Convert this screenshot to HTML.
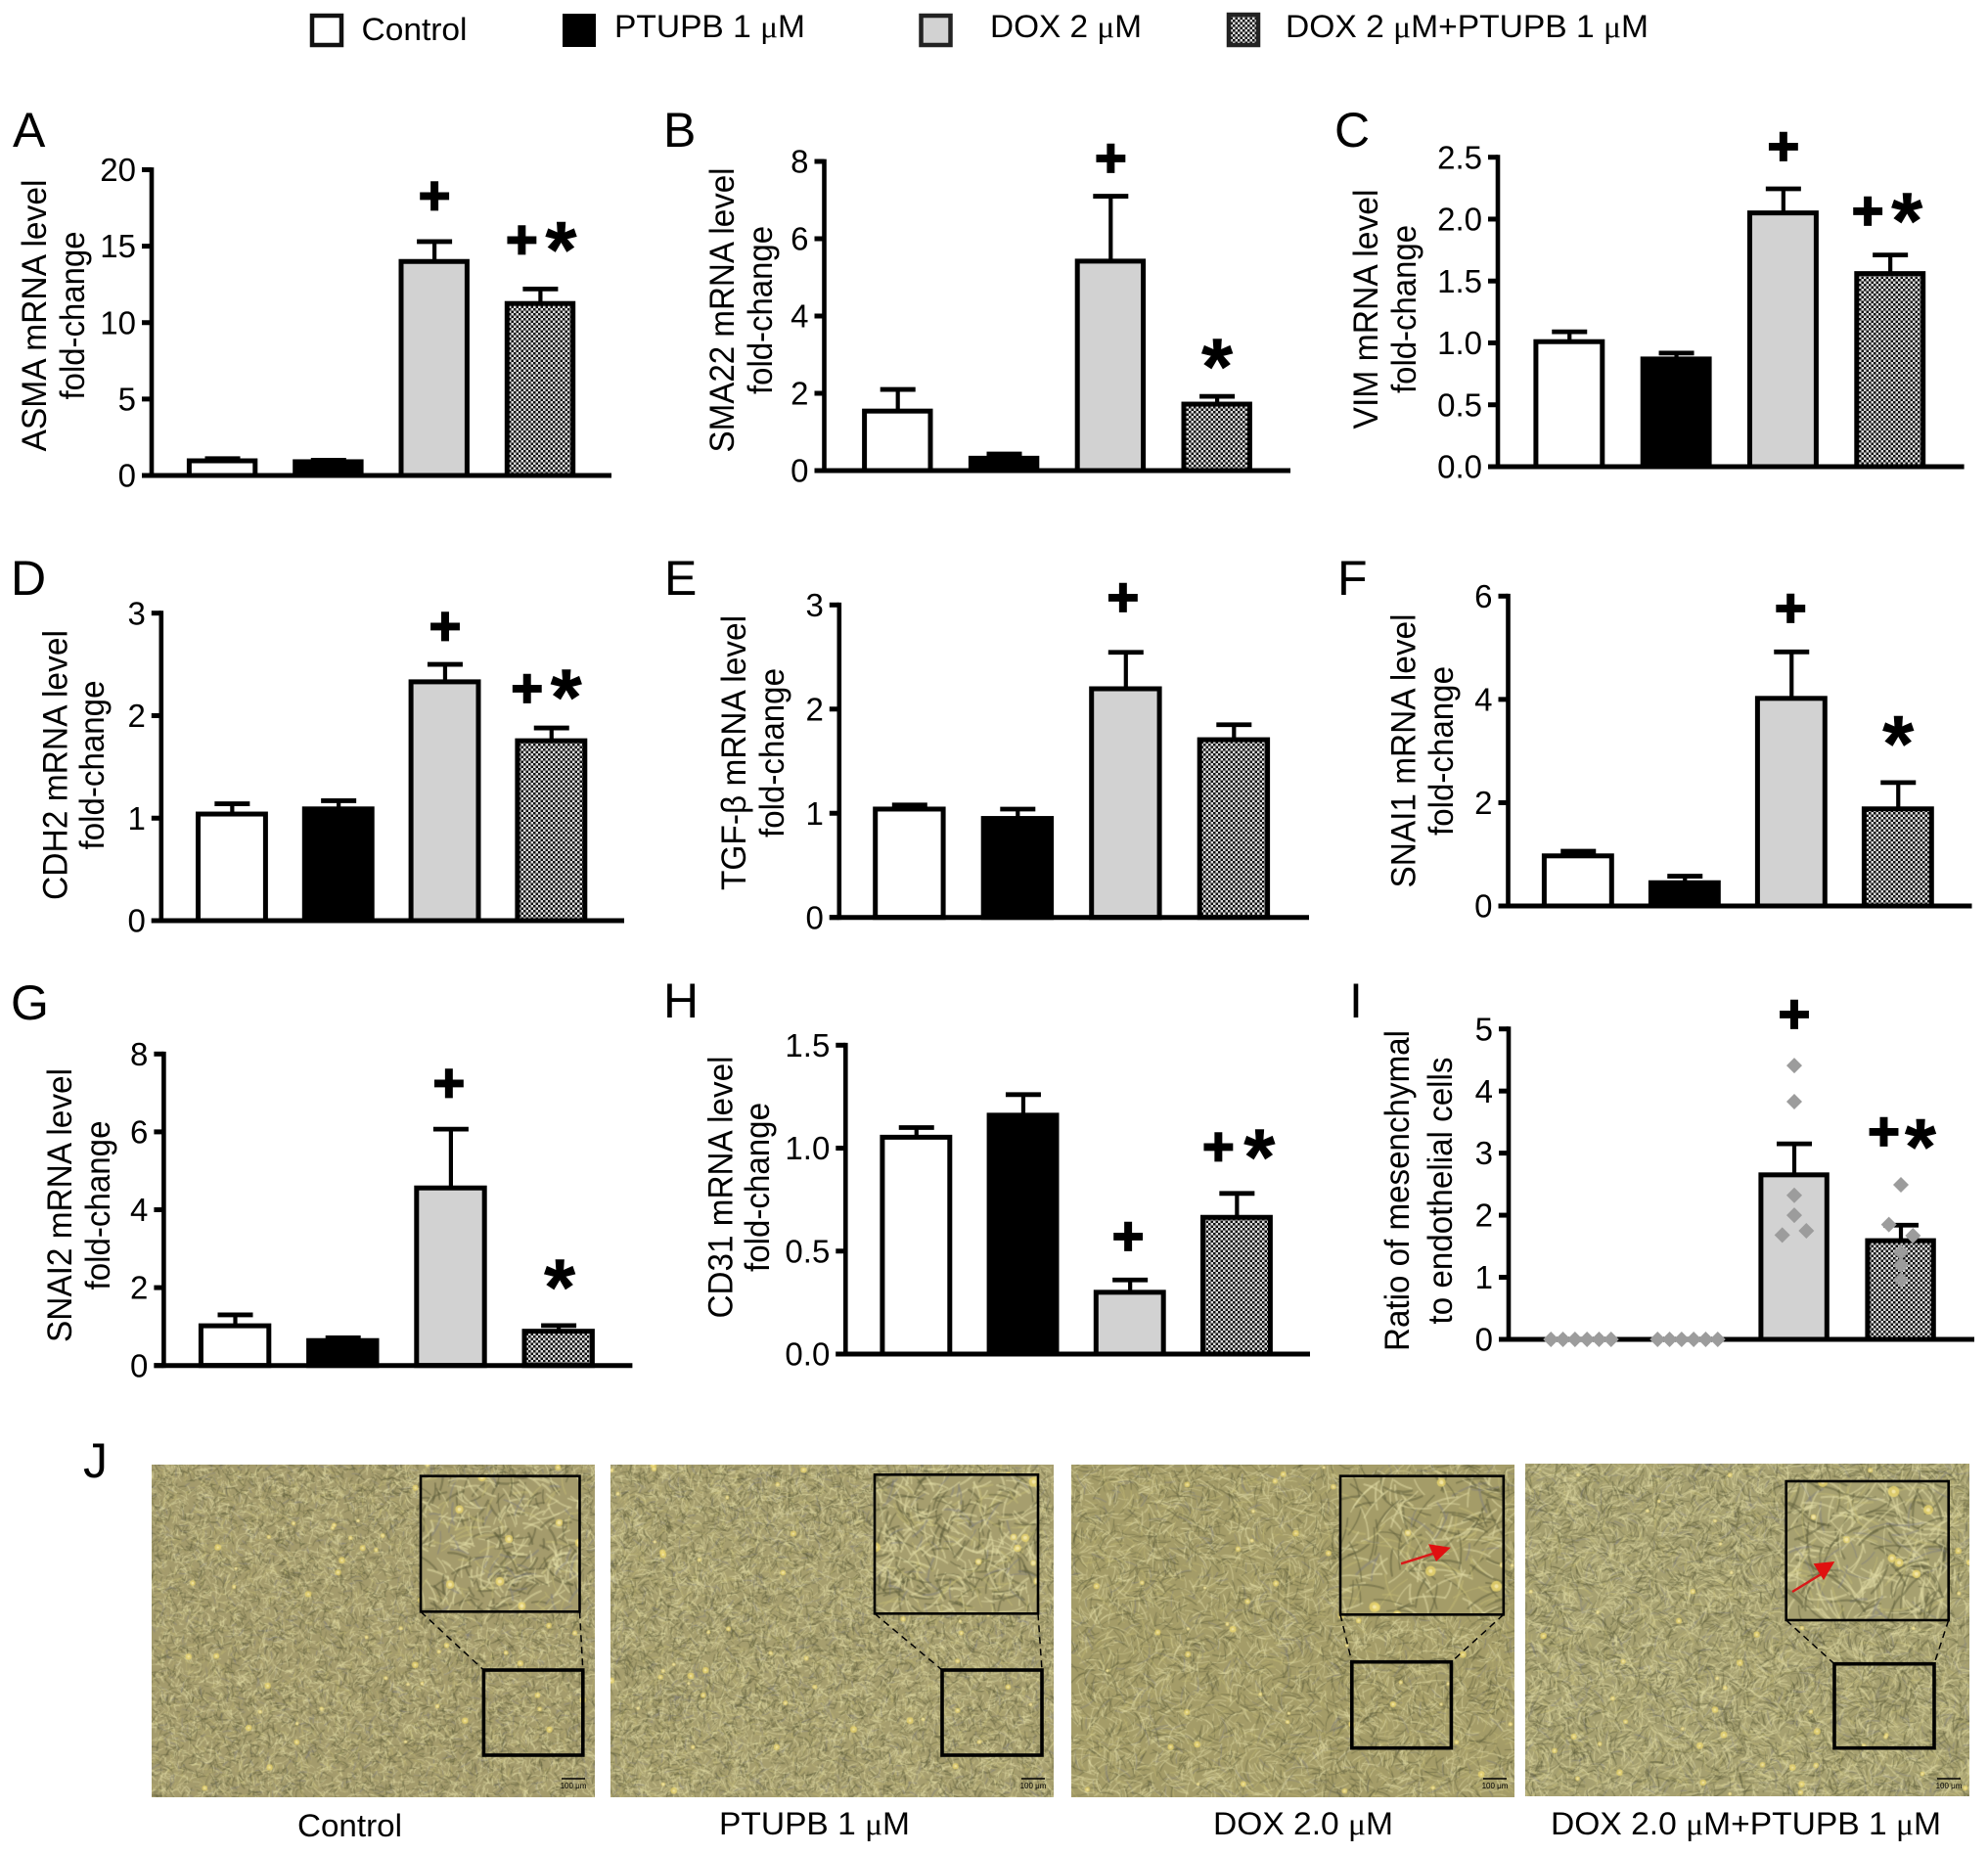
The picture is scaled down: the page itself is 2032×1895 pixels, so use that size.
<!DOCTYPE html>
<html lang="en">
<head>
<meta charset="utf-8">
<title>Fold-change panels and cell morphology</title>
<style>
html,body{margin:0;padding:0;background:#fff}
#page{position:relative;width:2032px;height:1895px;overflow:hidden;background:#fff}
#page canvas{position:absolute;display:block}
#figure{position:absolute;left:0;top:0}
#figure text{font-family:"Liberation Sans",Arial,sans-serif;fill:#000}
.mu{font-family:"Liberation Serif",serif}
</style>
</head>
<body>
<div id="page">
<svg id="figure" width="2032" height="1895" viewBox="0 0 2032 1895" xmlns="http://www.w3.org/2000/svg">
<defs>
<pattern id="checker" width="5" height="5" patternUnits="userSpaceOnUse">
<rect width="5" height="5" fill="#dcdcdc"/>
<rect width="2.5" height="2.5" fill="#111"/>
<rect x="2.5" y="2.5" width="2.5" height="2.5" fill="#111"/>
</pattern>
</defs>
<g id="legend">
<g>
<rect x="319" y="16" width="30" height="30" fill="#fff" stroke="#111" stroke-width="4.5"/>
<text x="369.5" y="41" font-size="32" textLength="108" lengthAdjust="spacingAndGlyphs">Control</text>
</g>
<g>
<rect x="577" y="16" width="30" height="30" fill="#000" stroke="#000" stroke-width="4"/>
<text x="628" y="38" font-size="32" textLength="195" lengthAdjust="spacingAndGlyphs">PTUPB 1 <tspan class="mu">μ</tspan>M</text>
</g>
<g>
<rect x="941.5" y="16" width="30" height="30" fill="#d2d2d2" stroke="#222" stroke-width="4.5"/>
<text x="1012" y="38" font-size="32" textLength="155" lengthAdjust="spacingAndGlyphs">DOX 2 <tspan class="mu">μ</tspan>M</text>
</g>
<g>
<rect x="1256" y="15" width="30" height="31" fill="url(#checker)" stroke="#222" stroke-width="4.5"/>
<text x="1314" y="38" font-size="32" textLength="371" lengthAdjust="spacingAndGlyphs">DOX 2 <tspan class="mu">μ</tspan>M+PTUPB 1 <tspan class="mu">μ</tspan>M</text>
</g>
</g>
<g id="charts"></g>
<g id="overlays"></g>
<text x="85" y="1510" font-size="50">J</text>
<text x="304" y="1877" font-size="32" textLength="107" lengthAdjust="spacingAndGlyphs">Control</text>
<text x="735" y="1875" font-size="32" textLength="195" lengthAdjust="spacingAndGlyphs">PTUPB 1 <tspan class="mu">μ</tspan>M</text>
<text x="1240" y="1875" font-size="32" textLength="184" lengthAdjust="spacingAndGlyphs">DOX 2.0 <tspan class="mu">μ</tspan>M</text>
<text x="1585" y="1875" font-size="32" textLength="399" lengthAdjust="spacingAndGlyphs">DOX 2.0 <tspan class="mu">μ</tspan>M+PTUPB 1 <tspan class="mu">μ</tspan>M</text>
</svg>
</div>
<script>
// ---- chart data ----
const categories = ['Control', 'PTUPB 1 uM', 'DOX 2 uM', 'DOX 2 uM+PTUPB 1 uM'];

const asmaMeans = [0.96, 0.9, 14.0, 11.25];
const asmaSem = [0.14, 0.1, 1.3, 0.95];
const asmaTicks = ['0', '5', '10', '15', '20'];
const asmaMarks = [{bar: 2, sym: '+', at: 18.27, dx: 0}, {bar: 3, sym: '+', at: 15.4, dx: -19}, {bar: 3, sym: '*', at: 15.6, dx: 21}];

const sma22Means = [1.54, 0.32, 5.42, 1.72];
const sma22Sem = [0.56, 0.11, 1.68, 0.2];
const sma22Ticks = ['0', '2', '4', '6', '8'];
const sma22Marks = [{bar: 2, sym: '+', at: 8.08, dx: 0}, {bar: 3, sym: '*', at: 3.01, dx: 0}];

const vimMeans = [1.01, 0.87, 2.05, 1.56];
const vimSem = [0.08, 0.048, 0.195, 0.15];
const vimTicks = ['0.0', '0.5', '1.0', '1.5', '2.0', '2.5'];
const vimMarks = [{bar: 2, sym: '+', at: 2.585, dx: 0}, {bar: 3, sym: '+', at: 2.063, dx: -23}, {bar: 3, sym: '*', at: 2.087, dx: 17}];

const cdh2Means = [1.04, 1.09, 2.33, 1.755];
const cdh2Sem = [0.1, 0.08, 0.17, 0.125];
const cdh2Ticks = ['0', '1', '2', '3'];
const cdh2Marks = [{bar: 2, sym: '+', at: 2.87, dx: 0}, {bar: 3, sym: '+', at: 2.26, dx: -25}, {bar: 3, sym: '*', at: 2.3, dx: 15}];

const tgfbMeans = [1.04, 0.95, 2.195, 1.706];
const tgfbSem = [0.04, 0.09, 0.35, 0.144];
const tgfbTicks = ['0', '1', '2', '3'];
const tgfbMarks = [{bar: 2, sym: '+', at: 3.07, dx: -3}];

const snai1Means = [0.97, 0.45, 4.02, 1.88];
const snai1Sem = [0.09, 0.127, 0.9, 0.51];
const snai1Ticks = ['0', '2', '4', '6'];
const snai1Marks = [{bar: 2, sym: '+', at: 5.76, dx: -1}, {bar: 3, sym: '*', at: 3.38, dx: 0}];

const snai2Means = [1.02, 0.64, 4.56, 0.88];
const snai2Sem = [0.28, 0.07, 1.51, 0.145];
const snai2Ticks = ['0', '2', '4', '6', '8'];
const snai2Marks = [{bar: 2, sym: '+', at: 7.24, dx: -2}, {bar: 3, sym: '*', at: 2.33, dx: 1}];

const cd31Means = [1.053, 1.16, 0.3, 0.664];
const cd31Sem = [0.047, 0.1, 0.06, 0.116];
const cd31Ticks = ['0.0', '0.5', '1.0', '1.5'];
const cd31Marks = [{bar: 2, sym: '+', at: 0.57, dx: -2}, {bar: 3, sym: '+', at: 1.006, dx: -19}, {bar: 3, sym: '*', at: 1.017, dx: 23}];

const ratioMeans = [0, 0, 2.65, 1.59];
const ratioSem = [0, 0, 0.5, 0.25];
const ratioTicks = ['0', '1', '2', '3', '4', '5'];
const ratioMarks = [{bar: 2, sym: '+', at: 5.23, dx: 0}, {bar: 3, sym: '+', at: 3.34, dx: -17.5}, {bar: 3, sym: '*', at: 3.3, dx: 20}];
const ratioPoints = [
  [0, 0, 0, 0, 0, 0],
  [0, 0, 0, 0, 0, 0],
  [4.41, 3.83, 2.32, 2.0, 1.68, 1.75],
  [2.49, 1.85, 1.67, 1.4, 1.2, 0.96]
];
const ratioSwarm = [
  [-2.5, -1.5, -0.5, 0.5, 1.5, 2.5],
  [-2.5, -1.5, -0.5, 0.5, 1.5, 2.5],
  [0, 0, 0, 0, -1, 1],
  [0, -1, 1, 0, 0, 0]
];

// ---- panel layout ----
const panels = [
  {id: 'asma', letter: 'A', lx: 13, ly: 150, means: asmaMeans, sem: asmaSem, ticks: asmaTicks, marks: asmaMarks,
   axisX: 155, yTop: 173.5, y0: 486, xRight: 625, barX: 192.5, pitch: 108.3, barW: 70,
   titles: ['ASMA mRNA level', 'fold-change'], bases: [47, 86], tcy: 322.5, lens: [278, 172]},
  {id: 'sma22', letter: 'B', lx: 678, ly: 150, means: sma22Means, sem: sma22Sem, ticks: sma22Ticks, marks: sma22Marks,
   axisX: 842.5, yTop: 165, y0: 481, xRight: 1319, barX: 882.7, pitch: 108.8, barW: 70,
   titles: ['SMA22 mRNA level', 'fold-change'], bases: [750, 789], tcy: 317, lens: [291, 172]},
  {id: 'vim', letter: 'C', lx: 1364, ly: 150, means: vimMeans, sem: vimSem, ticks: vimTicks, marks: vimMarks,
   axisX: 1531, yTop: 160.7, y0: 477, xRight: 2007.6, barX: 1569, pitch: 109.3, barW: 70.5,
   titles: ['VIM mRNA level', 'fold-change'], bases: [1408, 1447], tcy: 316, lens: [245, 172]},
  {id: 'cdh2', letter: 'D', lx: 11, ly: 608, means: cdh2Means, sem: cdh2Sem, ticks: cdh2Ticks, marks: cdh2Marks,
   axisX: 164.8, yTop: 626.7, y0: 941, xRight: 638, barX: 201.6, pitch: 108.8, barW: 71.5,
   titles: ['CDH2 mRNA level', 'fold-change'], bases: [68.5, 106], tcy: 782, lens: [276, 173]},
  {id: 'tgfb', letter: 'E', lx: 679, ly: 608, means: tgfbMeans, sem: tgfbSem, ticks: tgfbTicks, marks: tgfbMarks,
   axisX: 857.8, yTop: 618.3, y0: 937.7, xRight: 1338, barX: 893.8, pitch: 110.5, barW: 72,
   titles: ['TGF-β mRNA level', 'fold-change'], bases: [762, 801], tcy: 769.5, lens: [281, 173]},
  {id: 'snai1', letter: 'F', lx: 1367, ly: 608, means: snai1Means, sem: snai1Sem, ticks: snai1Ticks, marks: snai1Marks,
   axisX: 1541.5, yTop: 609.3, y0: 926, xRight: 2015.5, barX: 1577.5, pitch: 109, barW: 71.5,
   titles: ['SNAI1 mRNA level', 'fold-change'], bases: [1446.5, 1485], tcy: 767.5, lens: [280, 173]},
  {id: 'snai2', letter: 'G', lx: 11, ly: 1042, means: snai2Means, sem: snai2Sem, ticks: snai2Ticks, marks: snai2Marks,
   axisX: 167.4, yTop: 1077.3, y0: 1395.7, xRight: 646.4, barX: 204.5, pitch: 110.2, barW: 72,
   titles: ['SNAI2 mRNA level', 'fold-change'], bases: [73, 112], tcy: 1232, lens: [280, 173]},
  {id: 'cd31', letter: 'H', lx: 678, ly: 1040, means: cd31Means, sem: cd31Sem, ticks: cd31Ticks, marks: cd31Marks,
   axisX: 864.3, yTop: 1068.3, y0: 1384, xRight: 1339, barX: 901, pitch: 109.2, barW: 71.5,
   titles: ['CD31 mRNA level', 'fold-change'], bases: [748.5, 786], tcy: 1213.5, lens: [268, 173]},
  {id: 'ratio', letter: 'I', lx: 1379, ly: 1040, means: ratioMeans, sem: ratioSem, ticks: ratioTicks, marks: ratioMarks,
   axisX: 1542, yTop: 1051.7, y0: 1369, xRight: 2018, barX: 1581, pitch: 109, barW: 70,
   titles: ['Ratio of mesenchymal', 'to endothelial cells'], bases: [1440, 1484], tcy: 1217, lens: [328, 273],
   points: ratioPoints, swarm: ratioSwarm}
];

const SVGNS = 'http://www.w3.org/2000/svg';
function svgEl(tag, parent, props) {
  const el = document.createElementNS(SVGNS, tag);
  for (const k in props) el.setAttribute(k, props[k]);
  parent.appendChild(el);
  return el;
}

const barFills = ['#ffffff', '#000000', '#d2d2d2', 'url(#checker)'];
const chartsRoot = document.getElementById('charts');

panels.forEach(function (p) {
  const g = svgEl('g', chartsRoot, {});
  
  

  const yMax = parseFloat(p.ticks[p.ticks.length - 1]);
  const yScale = function (v) { return p.y0 - (v / yMax) * (p.y0 - p.yTop); };
  const barLeft = function (i) { return p.barX + i * p.pitch; };
  const barCenter = function (i) { return barLeft(i) + p.barW / 2; };

  const letter = svgEl('text', g, {x: p.lx, y: p.ly, 'font-size': 50});
  letter.textContent = p.letter;
  
  

  p.titles.forEach(function (t, i) {
    const title = svgEl('text', g, {
      'font-size': 35.5,
      textLength: p.lens[i],
      lengthAdjust: 'spacingAndGlyphs',
      transform: 'translate(' + p.bases[i] + ' ' + (p.tcy + p.lens[i] / 2) + ') rotate(-90)'
    });
    title.textContent = t;
    
    
  });

  p.means.forEach(function (m, i) {
    const cx = barCenter(i);
    if (p.sem[i] > 0) {
      const stem = svgEl('line', g, {x1: cx, x2: cx, y1: yScale(m), y2: yScale(m + p.sem[i]), stroke: '#000', 'stroke-width': 4.2});
      
      
      const cap = svgEl('line', g, {x1: cx - 18, x2: cx + 18, y1: yScale(m + p.sem[i]), y2: yScale(m + p.sem[i]), stroke: '#000', 'stroke-width': 4.8});
      
      
    }
    if (m > 0) {
      const bar = svgEl('rect', g, {
        x: barLeft(i) + 0.9, y: yScale(m), width: p.barW - 2.6, height: p.y0 - yScale(m),
        fill: barFills[i], stroke: '#000', 'stroke-width': 5
      });
      
      
    }
  });

  const yAxis = svgEl('line', g, {x1: p.axisX, x2: p.axisX, y1: p.yTop - 2.4, y2: p.y0 + 2.4, stroke: '#000', 'stroke-width': 4.6});
  
  
  const xAxis = svgEl('line', g, {x1: p.axisX - 10, x2: p.xRight, y1: p.y0, y2: p.y0, stroke: '#000', 'stroke-width': 5});
  
  

  p.ticks.forEach(function (label) {
    const v = parseFloat(label);
    const ty = yScale(v);
    const tick = svgEl('line', g, {x1: p.axisX - 10, x2: p.axisX, y1: ty, y2: ty, stroke: '#000', 'stroke-width': 5});
    
    
    const tl = svgEl('text', g, {x: p.axisX - 16, y: ty + 11.6, 'font-size': 33, 'text-anchor': 'end'});
    tl.textContent = label;
    
    
  });

  if (p.points) {
    p.points.forEach(function (series, i) {
      series.forEach(function (v, j) {
        const px = barCenter(i) + p.swarm[i][j] * 12.3;
        const py = yScale(v);
        const dot = svgEl('polygon', g, {
          points: (px - 8) + ',' + py + ' ' + px + ',' + (py - 8) + ' ' + (px + 8) + ',' + py + ' ' + px + ',' + (py + 8),
          fill: '#9c9c9c'
        });
        
        
      });
    });
  }

  p.marks.forEach(function (mk) {
    const isPlus = mk.sym === '+';
    const size = isPlus ? 56 : 82;
    const offset = isPlus ? 18.5 : 41;
    const sig = svgEl('text', g, {
      x: barCenter(mk.bar) + mk.dx, y: yScale(mk.at) + offset,
      'font-size': size, 'font-weight': 'bold', 'text-anchor': 'middle',
      stroke: '#000', 'stroke-width': isPlus ? 1.8 : 0.6
    });
    sig.textContent = mk.sym;
    
    
  });
});

// ---- microscopy photographs (procedural texture) ----
const photos = [
  {id: 'control', x: 155, y: 1497, w: 453, h: 340, base: [164, 155, 108], len: 7, area: 11, jitter: 2.6, seed: 11,
   inset: [430, 1508.7, 162.5, 138.6], box: [494.4, 1707, 101.4, 87], scaleX: 574},
  {id: 'ptupb', x: 624, y: 1497, w: 453, h: 340, base: [166, 158, 110], len: 8, area: 10, jitter: 2.6, seed: 37,
   inset: [894, 1507.3, 167, 142], box: [963, 1707, 102, 87], scaleX: 1044},
  {id: 'dox', x: 1095, y: 1497, w: 453, h: 340, base: [164, 156, 104], len: 13, area: 22, jitter: 2.0, seed: 73,
   inset: [1370, 1508.7, 166.8, 141.6], box: [1381.8, 1698.7, 101.6, 88], scaleX: 1516,
   head: [[1460, 1578.3], [1482.8, 1581.7], [1468, 1596]], tail: [1432, 1598.3, 1469, 1586.7]},
  {id: 'dox-ptupb', x: 1559, y: 1496, w: 454, h: 340, base: [166, 160, 112], len: 12, area: 14, jitter: 2.0, seed: 101,
   inset: [1825.7, 1514, 166, 142], box: [1875, 1700.7, 102, 86], scaleX: 1980,
   head: [[1853.6, 1598.3], [1875.3, 1596], [1864, 1615]], tail: [1832, 1627, 1863, 1608]}
];

function rng(seed) {
  let s = seed >>> 0;
  return function () {
    s = (s * 1664525 + 1013904223) >>> 0;
    return s / 4294967296;
  };
}

function paintCells(ctx, r, x, y, w, h, len, count, lw, phase, jitter) {
  for (let i = 0; i < count; i++) {
    const px = x + r() * w;
    const py = y + r() * h;
    const ang = 1.6 * Math.sin(px * 0.07 + phase) + 1.6 * Math.cos(py * 0.08 - phase) + (r() - 0.5) * jitter;
    const l = len * (0.5 + r() * 0.9);
    const dx = Math.cos(ang) * l / 2;
    const dy = Math.sin(ang) * l / 2;
    const t = r();
    if (t < 0.45) ctx.strokeStyle = 'rgba(226,220,165,0.55)';
    else if (t < 0.78) ctx.strokeStyle = 'rgba(92,92,58,0.5)';
    else if (t < 0.86) ctx.strokeStyle = 'rgba(120,120,130,0.4)';
    else ctx.strokeStyle = 'rgba(200,190,120,0.45)';
    ctx.lineWidth = lw * (0.7 + r() * 0.6);
    ctx.beginPath();
    ctx.moveTo(px - dx, py - dy);
    ctx.quadraticCurveTo(px + dy * 0.25, py - dx * 0.25, px + dx, py + dy);
    ctx.stroke();
  }
}

function paintBlobs(ctx, r, x, y, w, h, count, size) {
  for (let i = 0; i < count; i++) {
    const px = x + r() * w;
    const py = y + r() * h;
    ctx.fillStyle = 'rgba(238,216,110,0.8)';
    ctx.beginPath();
    ctx.arc(px, py, size * (0.6 + r() * 0.7), 0, Math.PI * 2);
    ctx.fill();
    ctx.fillStyle = 'rgba(250,240,190,0.7)';
    ctx.beginPath();
    ctx.arc(px, py, size * 0.45, 0, Math.PI * 2);
    ctx.fill();
  }
}

const pageEl = document.getElementById('page');
const overlayRoot = document.getElementById('overlays');
const figureSvg = document.getElementById('figure');

photos.forEach(function (ph) {
  const cv = document.createElement('canvas');
  cv.width = ph.w;
  cv.height = ph.h;
  cv.style.left = ph.x + 'px';
  cv.style.top = ph.y + 'px';
  
  
  pageEl.insertBefore(cv, figureSvg);
  const ctx = cv.getContext('2d');
  const r = rng(ph.seed);
  ctx.lineCap = 'round';
  ctx.fillStyle = 'rgb(' + ph.base.join(',') + ')';
  ctx.fillRect(0, 0, ph.w, ph.h);
  paintCells(ctx, r, 0, 0, ph.w, ph.h, ph.len, Math.round(ph.w * ph.h / ph.area), 1, ph.seed, ph.jitter);
  paintBlobs(ctx, r, 0, 0, ph.w, ph.h, 55, 2.6);

  // magnified inset
  const ix = ph.inset[0] - ph.x;
  const iy = ph.inset[1] - ph.y;
  const iw = ph.inset[2];
  const ih = ph.inset[3];
  ctx.fillStyle = 'rgb(' + ph.base.join(',') + ')';
  ctx.fillRect(ix, iy, iw, ih);
  ctx.save();
  ctx.beginPath();
  ctx.rect(ix, iy, iw, ih);
  ctx.clip();
  paintCells(ctx, r, ix, iy, iw, ih, ph.len * 2.4, Math.round(iw * ih / (ph.area * 5)), 1.8, ph.seed + 2, ph.jitter);
  paintBlobs(ctx, r, ix, iy, iw, ih, 8, 4.5);
  ctx.restore();

  // inset frames, zoom guides, scale bar
  const g = svgEl('g', overlayRoot, {});
  
  
  const frame = svgEl('rect', g, {x: ph.inset[0], y: ph.inset[1], width: ph.inset[2], height: ph.inset[3], fill: 'none', stroke: '#000', 'stroke-width': 2.6});
  
  
  const box = svgEl('rect', g, {x: ph.box[0], y: ph.box[1], width: ph.box[2], height: ph.box[3], fill: 'none', stroke: '#000', 'stroke-width': 3.6});
  
  
  const guideA = svgEl('line', g, {x1: ph.inset[0], y1: ph.inset[1] + ph.inset[3], x2: ph.box[0], y2: ph.box[1], stroke: '#000', 'stroke-width': 1.5, 'stroke-dasharray': '7 5'});
  
  
  const guideB = svgEl('line', g, {x1: ph.inset[0] + ph.inset[2], y1: ph.inset[1] + ph.inset[3], x2: ph.box[0] + ph.box[2], y2: ph.box[1], stroke: '#000', 'stroke-width': 1.5, 'stroke-dasharray': '7 5'});
  
  
  const sb = svgEl('line', g, {x1: ph.scaleX, x2: ph.scaleX + 24, y1: 1818, y2: 1818, stroke: '#000', 'stroke-width': 1.6});
  
  
  const sbl = svgEl('text', g, {x: ph.scaleX + 12, y: 1828, 'font-size': 8, 'text-anchor': 'middle'});
  sbl.textContent = '100 μm';
  
  

  if (ph.head) {
    const shaft = svgEl('line', g, {x1: ph.tail[0], y1: ph.tail[1], x2: ph.tail[2], y2: ph.tail[3], stroke: '#d81818', 'stroke-width': 2.4});
    
    
    const headPoly = svgEl('polygon', g, {points: ph.head.map(function (c) { return c.join(','); }).join(' '), fill: '#e01010'});
    
    
  }
});
</script>
</body>
</html>
